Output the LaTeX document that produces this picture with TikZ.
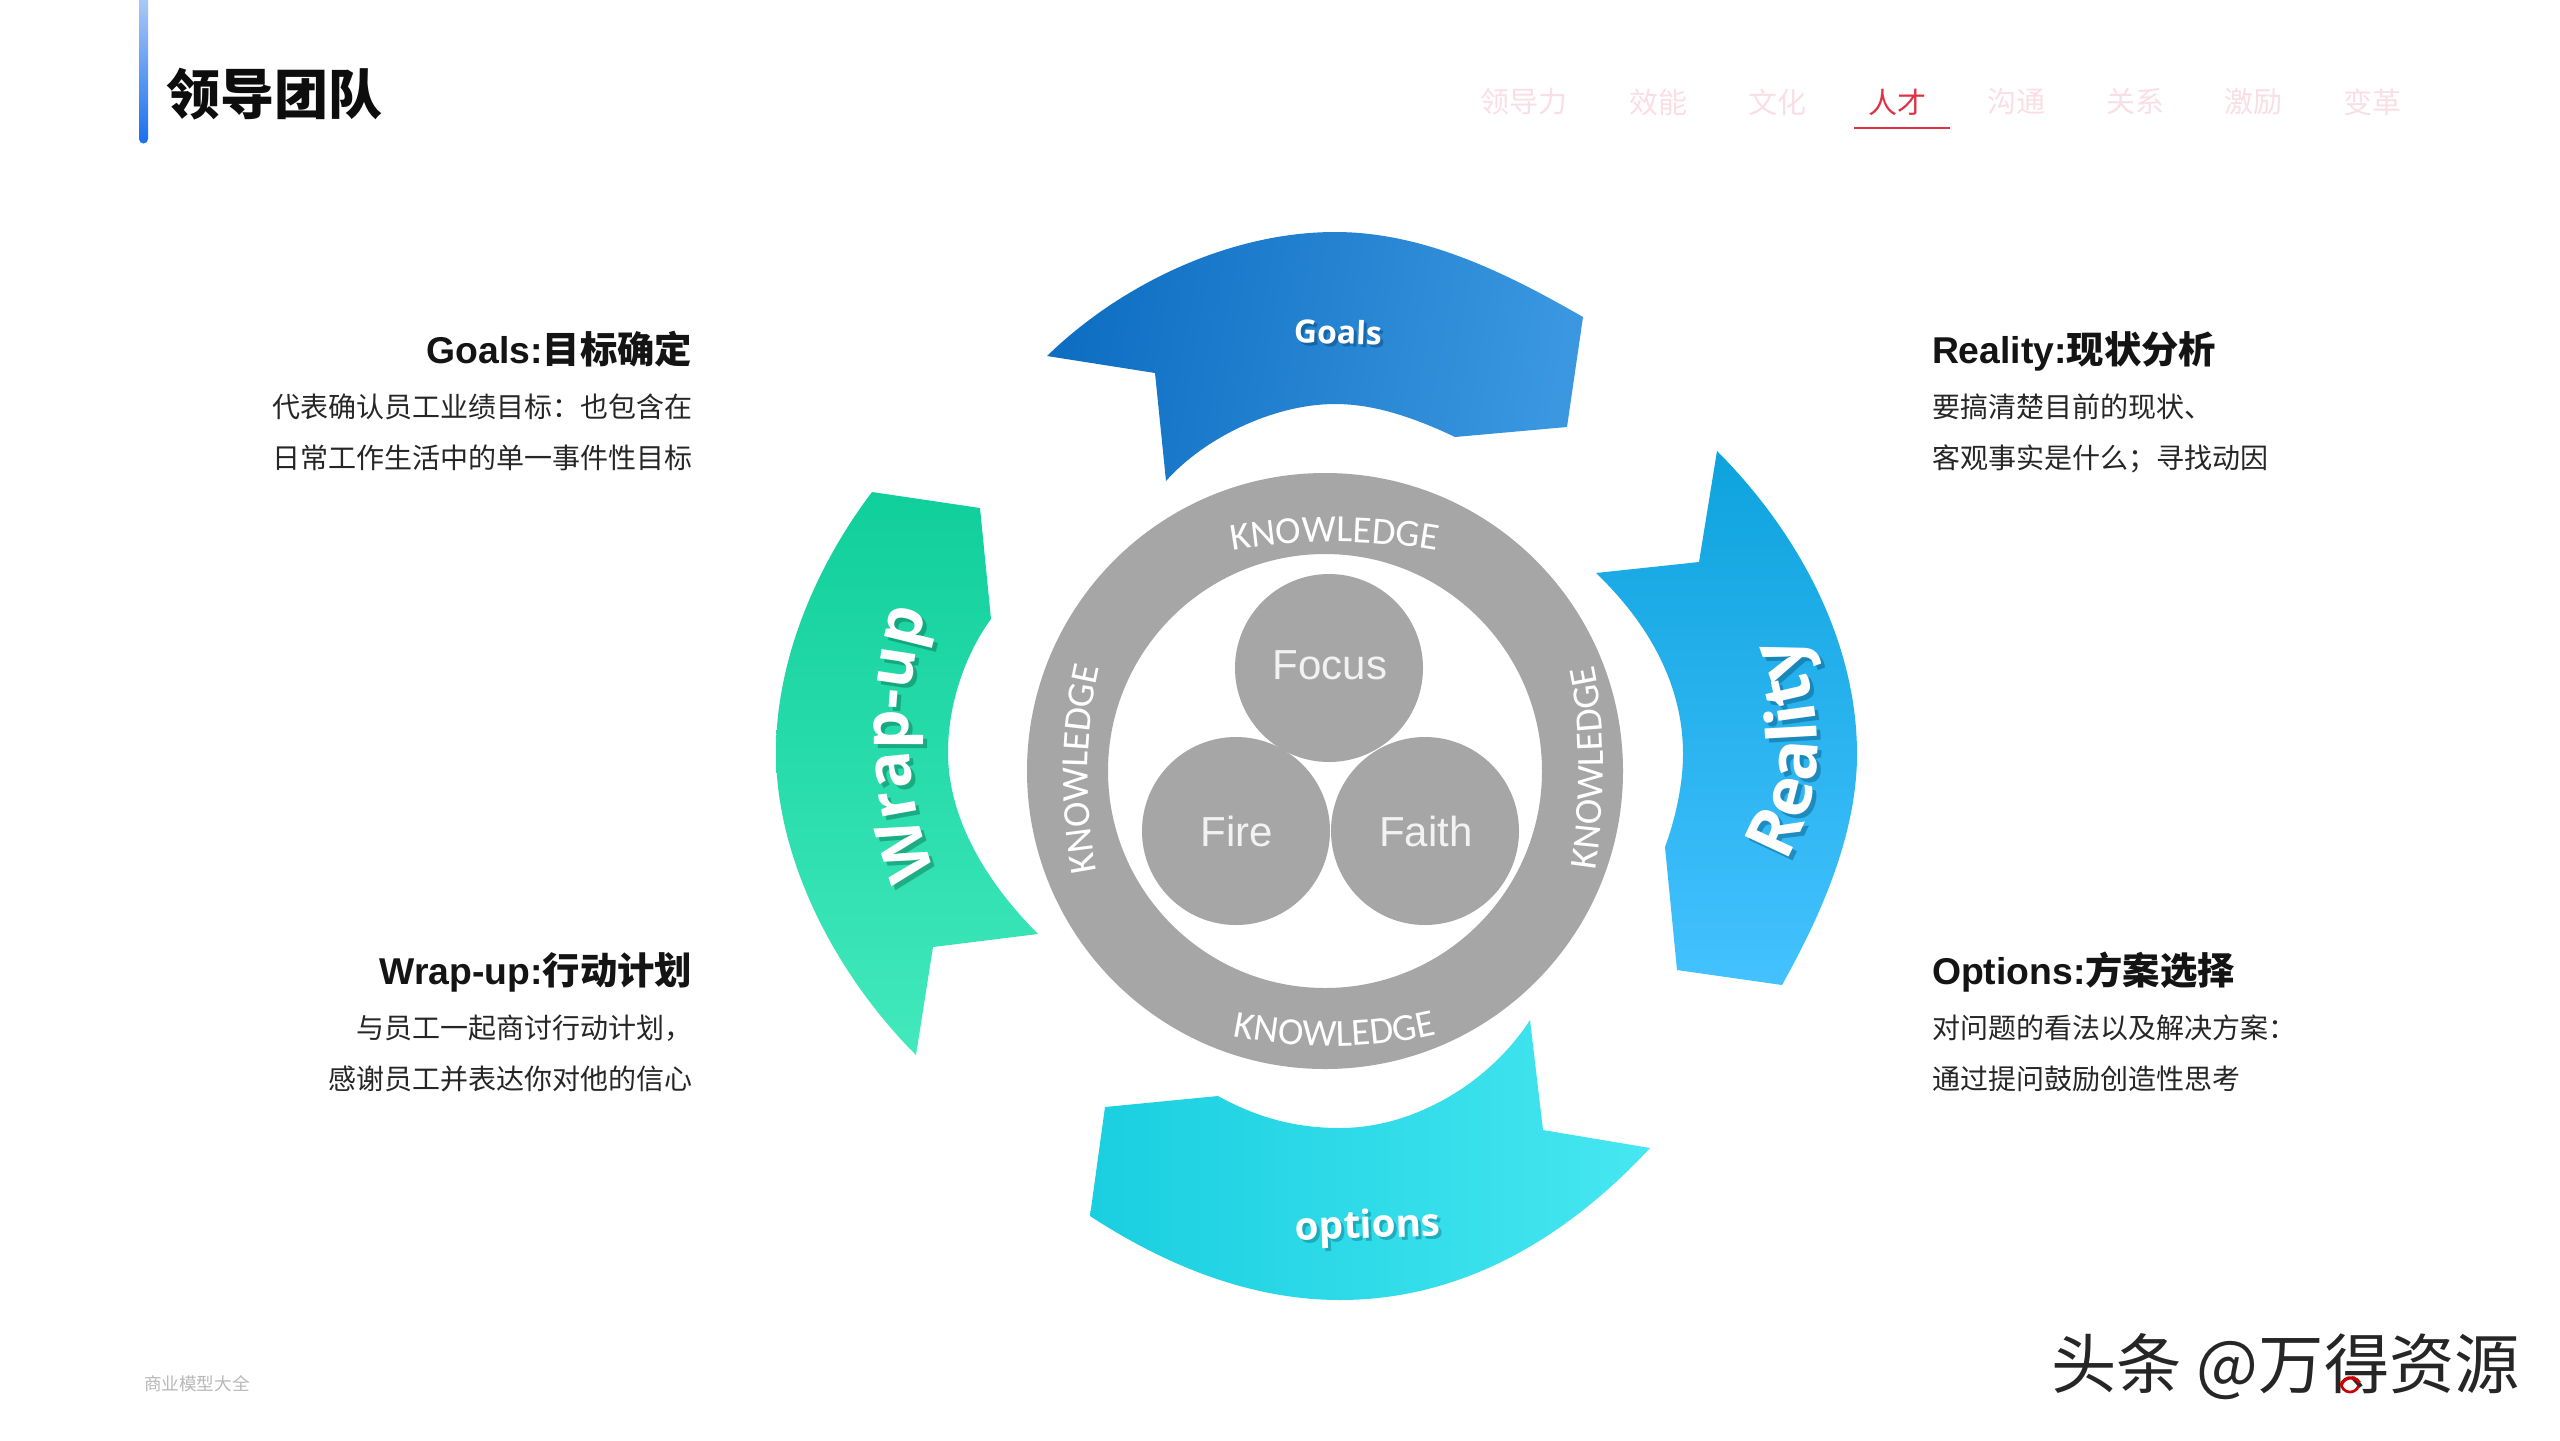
\documentclass[tikz,border=0pt]{standalone}
\usepackage{fontspec}
\usetikzlibrary{decorations.text}
\newfontfamily\cjk{Noto Sans CJK SC}
\newfontfamily\lat{Liberation Sans}
\newfontfamily\opens{Open Sans}
\newfontfamily\carl{Carlito}
\definecolor{navpale}{HTML}{F9DFE5}
\definecolor{navred}{HTML}{DF3244}
\definecolor{ringgray}{HTML}{A6A6A6}
\definecolor{barA}{HTML}{A9C8F7}
\definecolor{barB}{HTML}{1A6EF0}
\definecolor{goalA}{HTML}{0E6EC2}
\definecolor{goalB}{HTML}{3A97E0}
\definecolor{realA}{HTML}{0EA3DD}
\definecolor{realB}{HTML}{43C2FF}
\definecolor{optA}{HTML}{1ACFE0}
\definecolor{optB}{HTML}{46E7F1}
\definecolor{wrapA}{HTML}{10CF9B}
\definecolor{wrapB}{HTML}{42E9BC}
\definecolor{goalS}{HTML}{0A4A80}
\definecolor{optS}{HTML}{0B7F90}
\definecolor{realS}{HTML}{0C5F8A}
\definecolor{wrapS}{HTML}{0B7A5A}
\newcommand\kf{\carl\fontsize{28.8}{30}\selectfont}
\newcommand\sdwcurve[4]{%
  \begin{scope}[shift={(4,4)},opacity=.5]\path[curved={#1\color{#2}}{#3}] #4;\end{scope}
  \path[curved={#1\color{white}}{#3}] #4;}
\tikzset{
  curved/.style 2 args={decorate,decoration={text along path,text align=center,text={|#1|#2}}},
  plain/.style={inner sep=0pt,outer sep=0pt},
  nav/.style={plain,font=\cjk\fontsize{21.75}{24}\selectfont,text=navpale},
  ttl/.style={plain,text=black!92,font=\bfseries\fontsize{28}{32}\selectfont},
  body/.style={plain,text=black!85,font=\cjk\fontsize{21}{26}\selectfont},
  lft/.style={anchor=base east},
  rgt/.style={anchor=base west},
  ball/.style={circle,fill=ringgray,inner sep=0pt,minimum size=141pt},
  balltxt/.style={plain,text=#1,font=\lat\fontsize{31.5}{34}\selectfont},
  banner/.style={plain,font=\opens\bfseries\fontsize{#1}{#1}\selectfont}
}
\begin{document}
\begin{tikzpicture}[x=0.75pt,y=-0.75pt]
\useasboundingbox (0,0) rectangle (2560,1440);
\fill[white] (0,0) rectangle (2560,1440);

% header
\shade[top color=barA,bottom color=barB]
  (139,0) -- (148,0) -- (148,139) arc[start angle=0,end angle=180,radius=4.5] -- cycle;
\node[plain,anchor=west,text=black!95] (title) at (166,94) {\cjk\bfseries\fontsize{40.5}{44}\selectfont 领导团队};
\node[nav] (n1) at (1524,102) {领导力};
\node[nav] (n2) at (1658,102) {效能};
\node[nav] (n3) at (1777,102) {文化};
\node[nav,text=navred] (n4) at (1897,102) {人才};
\node[nav] (n5) at (2016,102) {沟通};
\node[nav] (n6) at (2135,102) {关系};
\node[nav] (n7) at (2253,102) {激励};
\node[nav] (n8) at (2372,102) {变革};
\draw[navred,line width=2pt] (1854,128) -- (1950,128);

% ring
\fill[ringgray,even odd rule] (1325,771) circle[radius=298] (1325,771) circle[radius=217];
\path[curved={\kf\color{white}}{KNOWLEDGE}] (1232,551) .. controls (1300,539) and (1370,539) .. (1438,551);
\path[curved={\kf\color{white}}{KNOWLEDGE}] (1232,1036) .. controls (1300,1050) and (1370,1050) .. (1438,1034);
\path[curved={\kf\color{white}}{KNOWLEDGE}] (1097,872) .. controls (1084,805) and (1084,735) .. (1100,666);
\path[curved={\kf\color{white}}{KNOWLEDGE}] (1595,872) .. controls (1606,800) and (1606,720) .. (1593,664);

% balls
\node[ball] (focus) at (1329,668) {};
\node[ball] (fire) at (1236,831) {};
\node[ball] (faith) at (1425,831) {};
\node[balltxt=white!95!black] (focust) at (1330,665) {Focus};
\node[balltxt=white!95!black] (firet) at (1237,831) {Fire};
\node[balltxt=white!95!black] (faitht) at (1426,831) {Faith};

% Goals
\shade[left color=goalA,right color=goalB,shading angle=80]
  (1047,356) .. controls (1121,284) and (1230,232) .. (1335,232)
  .. controls (1425,232) and (1508,274) .. (1583,317)
  -- (1567,427) -- (1455,437)
  .. controls (1415,418) and (1375,404) .. (1335,404)
  .. controls (1275,404) and (1205,437) .. (1166,481)
  -- (1155,373) -- cycle;
% Reality
\shade[top color=realA,bottom color=realB]
  (1717,451) .. controls (1797,531) and (1857,640) .. (1857,754)
  .. controls (1857,835) and (1820,917) .. (1782,985)
  -- (1677,970) -- (1665,847)
  .. controls (1675,820) and (1683,785) .. (1683,754)
  .. controls (1683,680) and (1644,619) .. (1596,573)
  -- (1699,562) -- cycle;
% options
\shade[left color=optA,right color=optB]
  (1090,1216) .. controls (1165,1265) and (1250,1300) .. (1340,1300)
  .. controls (1455,1300) and (1560,1245) .. (1650,1148)
  -- (1543,1130) -- (1530,1020)
  .. controls (1490,1082) and (1415,1128) .. (1340,1128)
  .. controls (1296,1128) and (1258,1118) .. (1218,1096)
  -- (1105,1107) -- cycle;
% Wrap-up
\shade[top color=wrapA,bottom color=wrapB]
  (872,492) .. controls (816,566) and (776,660) .. (776,752)
  .. controls (776,860) and (836,975) .. (916,1055)
  -- (933,947) -- (1038,934)
  .. controls (1000,896) and (948,830) .. (948,752)
  .. controls (948,700) and (968,650) .. (991,619)
  -- (980,508) -- cycle;

% banner labels
\node[banner=24,text=goalS,opacity=.5,rotate=-2] (goalsb) at (1341,335) {Goals};
\node[banner=29,text=optS,opacity=.5,rotate=2] (optionsb) at (1371,1231) {options};
\node[banner=24,text=white,rotate=-2] (goals) at (1338,332) {Goals};
\node[banner=29,text=white,rotate=2] (options) at (1368,1228) {options};
\sdwcurve{\opens\bfseries\fontsize{51}{52}\selectfont}{realS}{Reality}{(1788,858) .. controls (1826,790) and (1826,715) .. (1796,640)}
\sdwcurve{\opens\bfseries\fontsize{47}{48}\selectfont}{wrapS}{Wrap-up}{(938,878) .. controls (902,795) and (900,695) .. (928,606)}

% left panel
\node[ttl,lft] (gt) at (692,363) {\lat Goals:\cjk 目标确定};
\node[body,lft] (g1) at (692,417) {代表确认员工业绩目标^^^^ff1a也包含在};
\node[body,lft] (g2) at (692,468) {日常工作生活中的单一事件性目标};
\node[ttl,lft] (wt) at (692,984) {\lat Wrap-up:\cjk 行动计划};
\node[body,lft] (w1) at (692,1038) {与员工一起商讨行动计划^^^^ff0c};
\node[body,lft] (w2) at (692,1089) {感谢员工并表达你对他的信心};
% right panel
\node[ttl,rgt] (rt) at (1932,363) {\lat Reality:\cjk 现状分析};
\node[body,rgt] (r1) at (1932,417) {要搞清楚目前的现状、};
\node[body,rgt] (r2) at (1932,468) {客观事实是什么^^^^ff1b寻找动因};
\node[ttl,rgt] (ot) at (1932,984) {\lat Options:\cjk 方案选择};
\node[body,rgt] (o1) at (1932,1038) {对问题的看法以及解决方案^^^^ff1a};
\node[body,rgt] (o2) at (1932,1089) {通过提问鼓励创造性思考};

% footer
\node[plain,anchor=west,text=black!28,font=\cjk\fontsize{13.2}{14}\selectfont] (foot) at (144,1384) {商业模型大全};
\node[plain,anchor=east,text=black!85,font=\cjk\fontsize{49}{52}\selectfont] (mark) at (2520,1367) {头条 @万得资源};
\draw[red!80!black,line width=2pt] (2341,1383) arc[start angle=180,end angle=20,radius=9];
\draw[red!80!black,line width=2.5pt] (2341,1386) arc[start angle=-170,end angle=-30,radius=10];
\end{tikzpicture}
\end{document}
